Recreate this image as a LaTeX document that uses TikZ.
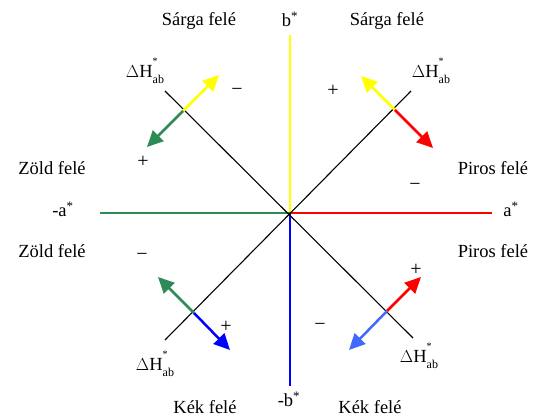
\documentclass[tikz,border=0pt]{standalone}
\usepackage{fontspec}
\setmainfont{Liberation Serif}
\usetikzlibrary{arrows.meta}

\definecolor{zold}{RGB}{46,139,87}
\definecolor{sarga}{RGB}{255,255,0}
\definecolor{piros}{RGB}{255,0,0}
\definecolor{kek}{RGB}{0,0,255}
\definecolor{vilagoskek}{RGB}{65,105,255}

\tikzset{
  axis/.style={line width=2pt},
  diag/.style={line width=1.1pt, black},
  dirarrow/.style={line width=2.5pt, -{Triangle[length=16pt,width=15pt]}},
  label/.style={font=\fontsize{18.5}{20}\selectfont, inner sep=0pt},
  sign/.style={font=\fontsize{20}{22}\selectfont, inner sep=0pt}
}

\newcommand{\dH}{$\Delta$H\rlap{\raisebox{1.55ex}{\fontsize{10}{10}\selectfont *}}\raisebox{-0.75ex}{\fontsize{12}{12}\selectfont ab}}

\begin{document}
\begin{tikzpicture}[x=1pt, y=-1pt]
  \useasboundingbox (0,0) rectangle (539,419);

  % Axes
  \coordinate (O) at (290,213);
  \coordinate (btop) at (290,35);
  \coordinate (bbot) at (290,386);
  \coordinate (aleft) at (100,213);
  \coordinate (aright) at (492,213);
  \draw[axis, sarga] (O) -- (btop);
  \draw[axis, kek] (O) -- (bbot);
  \draw[axis, zold] (O) -- (aleft);
  \draw[axis, piros] (O) -- (aright);

  % Diagonals
  \coordinate (ul) at (165,91);
  \coordinate (lr) at (413,338);
  \coordinate (ur) at (411,91);
  \coordinate (ll) at (165,340);
  \draw[diag] (ul) -- (lr);
  \draw[diag] (ur) -- (ll);

  % Hue arrows
  \coordinate (c1) at (183,111);
  \coordinate (c2) at (395,110);
  \coordinate (c3) at (194,313);
  \coordinate (c4) at (387,311);
  \coordinate (t1y) at (219,75);
  \coordinate (t1g) at (147,147);
  \coordinate (t2y) at (361,76);
  \coordinate (t2r) at (433,148);
  \coordinate (t3g) at (158,277);
  \coordinate (t3b) at (230,350);
  \coordinate (t4r) at (421,277);
  \coordinate (t4b) at (349,350);
  \draw[dirarrow, sarga] (c1) -- (t1y);
  \draw[dirarrow, zold] (c1) -- (t1g);
  \draw[dirarrow, sarga] (c2) -- (t2y);
  \draw[dirarrow, piros] (c2) -- (t2r);
  \draw[dirarrow, zold] (c3) -- (t3g);
  \draw[dirarrow, kek] (c3) -- (t3b);
  \draw[dirarrow, piros] (c4) -- (t4r);
  \draw[dirarrow, vilagoskek] (c4) -- (t4b);

  % Axis labels
  \node[label] (bstar) at (290,19) {b\textsuperscript{*}};
  \node[label] (mbstar) at (289,399) {-b\textsuperscript{*}};
  \node[label] (astar) at (511,209) {a\textsuperscript{*}};
  \node[label] (mastar) at (63,209) {-a\textsuperscript{*}};

  % Direction labels
  \node[label] (sarga1) at (199,21) {Sárga felé};
  \node[label] (sarga2) at (387,21) {Sárga felé};
  \node[label] (zold1) at (52,168) {Zöld felé};
  \node[label] (zold2) at (52,251) {Zöld felé};
  \node[label] (piros1) at (493,168) {Piros felé};
  \node[label] (piros2) at (493,251) {Piros felé};
  \node[label] (kek1) at (205,407) {Kék felé};
  \node[label] (kek2) at (370,407) {Kék felé};

  % Delta H labels
  \node[label] (dh1) at (145,71) {\dH};
  \node[label] (dh2) at (431,71) {\dH};
  \node[label] (dh3) at (155,364) {\dH};
  \node[label] (dh4) at (419,356) {\dH};

  % Signs
  \node[sign] (s1) at (237,92) {−};
  \node[sign] (s2) at (333,91) {+};
  \node[sign] (s3) at (143,162) {+};
  \node[sign] (s4) at (415,187) {−};
  \node[sign] (s5) at (142,257) {−};
  \node[sign] (s6) at (226,327) {+};
  \node[sign] (s7) at (320,327) {−};
  \node[sign] (s8) at (416,270) {+};
\end{tikzpicture}
\end{document}
